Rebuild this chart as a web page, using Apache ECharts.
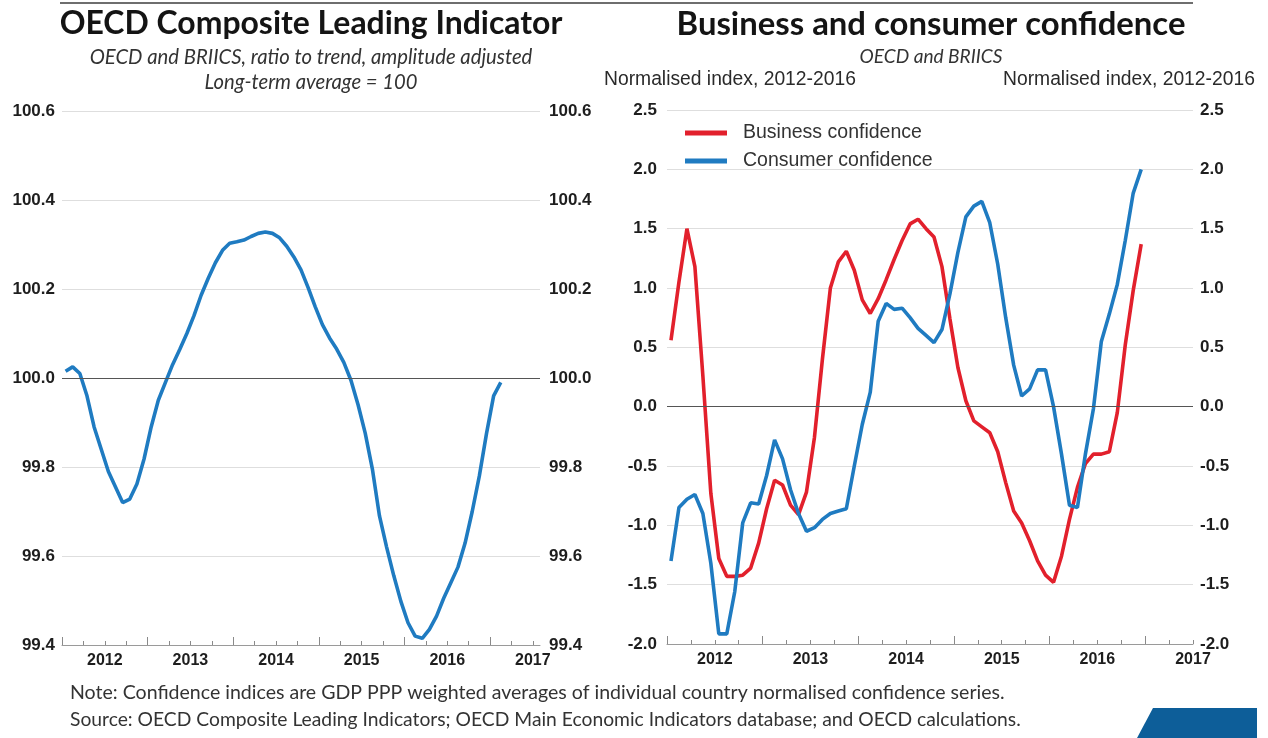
<!DOCTYPE html>
<html>
<head>
<meta charset="utf-8">
<script src="https://cdn.jsdelivr.net/npm/echarts@6/dist/echarts.min.js"></script>
<style>
html,body{margin:0;padding:0;background:#fff;}
#chart{width:1268px;height:738px;}
</style>
</head>
<body>
<div id="chart"></div>
<script>
// ---------------- DATA ----------------
const startYear = 2012;
const yearLabels = ['2012', '2013', '2014', '2015', '2016', '2017'];
// OECD Composite Leading Indicator, monthly from Jan 2012
const cliValues = [
  100.015, 100.025, 100.01, 99.96, 99.89, 99.84, 99.79, 99.755, 99.72, 99.728, 99.762, 99.818,
  99.89, 99.95, 99.99, 100.03, 100.064, 100.10, 100.14, 100.186, 100.224, 100.259, 100.287, 100.303,
  100.306, 100.31, 100.318, 100.325, 100.328, 100.325, 100.315, 100.296, 100.272, 100.243, 100.203, 100.16,
  100.12, 100.09, 100.065, 100.035, 99.995, 99.94, 99.876, 99.796, 99.69, 99.62, 99.556, 99.498,
  99.45, 99.42, 99.415, 99.435, 99.465, 99.505, 99.54, 99.575, 99.629, 99.70, 99.78, 99.875,
  99.96, 99.99
];
// Business confidence, monthly from Jan 2012
const businessValues = [
  0.56, 1.05, 1.50, 1.18, 0.26, -0.73, -1.28, -1.43, -1.43, -1.42, -1.36, -1.15,
  -0.86, -0.62, -0.66, -0.83, -0.91, -0.72, -0.26, 0.40, 1.00, 1.22, 1.31, 1.15,
  0.90, 0.785, 0.91, 1.07, 1.24, 1.40, 1.54, 1.58, 1.50, 1.43, 1.18, 0.74,
  0.33, 0.05, -0.12, -0.17, -0.22, -0.38, -0.64, -0.88, -0.98, -1.13, -1.30, -1.42,
  -1.48, -1.26, -0.95, -0.68, -0.48, -0.40, -0.40, -0.38, -0.05, 0.52, 0.98, 1.37
];
// Consumer confidence, monthly from Jan 2012
const consumerValues = [
  -1.30, -0.85, -0.78, -0.74, -0.90, -1.32, -1.915, -1.915, -1.56, -0.98, -0.81, -0.82,
  -0.58, -0.28, -0.44, -0.70, -0.90, -1.05, -1.02, -0.95, -0.90, -0.88, -0.86, -0.50,
  -0.15, 0.12, 0.72, 0.87, 0.82, 0.83, 0.75, 0.66, 0.60, 0.54, 0.65, 0.95,
  1.30, 1.60, 1.69, 1.73, 1.55, 1.20, 0.75, 0.35, 0.09, 0.15, 0.31, 0.31,
  0.0, -0.40, -0.83, -0.85, -0.40, -0.02, 0.55, 0.78, 1.03, 1.40, 1.80, 2.0
];
const cliTicks = [99.4, 99.6, 99.8, 100.0, 100.2, 100.4, 100.6];
const confTicks = [-2.0, -1.5, -1.0, -0.5, 0.0, 0.5, 1.0, 1.5, 2.0, 2.5];

// ---------------- HELPERS ----------------
const BLUE = '#1f7bc1';
const RED = '#e2202c';
const measureCtx = document.createElement('canvas').getContext('2d');
function fitSize(text, family, weight, style, targetWidth) {
  measureCtx.font = style + ' ' + weight + ' 100px ' + family;
  const w = measureCtx.measureText(text).width;
  return 100 * targetWidth / w;
}
function textEl(text, x, y, width, opts) {
  const family = opts.family || 'Lato';
  const weight = opts.weight || 'normal';
  const fstyle = opts.fontStyle || 'normal';
  const size = fitSize(text, family, weight, fstyle, width);
  return {
    type: 'text', x: x, y: y, silent: true,
    style: {
      text: text, fill: opts.color || '#222',
      fontFamily: family, fontWeight: weight, fontStyle: fstyle, fontSize: size,
      textAlign: opts.align || 'center', textVerticalAlign: 'middle'
    }
  };
}
function range(a, b, step) { const r = []; for (let v = a; v <= b + 1e-9; v += step) r.push(v); return r; }
function toXY(arr) { return arr.map((v, i) => [i + 0.5, v]); }

const axisLabelFont = { fontFamily: 'Liberation Sans', fontWeight: 'bold', fontSize: 17, color: '#1e1e1e' };
const xLabelFont = { fontFamily: 'Liberation Sans', fontWeight: 'bold', fontSize: 16, color: '#1e1e1e' };

function xAxes(gridIndex, max) {
  const yearCenters = yearLabels.map((y, i) => i * 12 + 6).filter(v => v <= max);
  return [
    { // quarterly ticks + year labels
      type: 'value', gridIndex: gridIndex, position: 'bottom', min: 0, max: max,
      axisLine: { show: true, onZero: false, lineStyle: { color: '#9a9a9a', width: 1 } },
      axisTick: { show: true, inside: true, length: 4, customValues: range(0, max, 3), lineStyle: { color: '#8a8a8a' } },
      axisLabel: {
        show: true, customValues: yearCenters, margin: 8, ...xLabelFont,
        formatter: v => yearLabels[Math.floor(v / 12)]
      },
      splitLine: { show: false }
    },
    { // yearly ticks
      type: 'value', gridIndex: gridIndex, position: 'bottom', min: 0, max: max,
      axisLine: { show: false, onZero: false },
      axisTick: { show: true, inside: true, length: 8, customValues: range(0, max, 12), lineStyle: { color: '#8a8a8a' } },
      axisLabel: { show: false },
      splitLine: { show: false }
    }
  ];
}
function yAxes(gridIndex, min, max, interval, ticks, leftMargin, rightMargin) {
  const base = {
    type: 'value', gridIndex: gridIndex, min: min, max: max, interval: interval,
    axisLine: { show: false, onZero: false }, axisTick: { show: false }
  };
  const fmt = v => Number(v).toFixed(1);
  return [
    { ...base, position: 'left',
      axisLabel: { ...axisLabelFont, margin: leftMargin, formatter: fmt, customValues: ticks },
      splitLine: { show: true, lineStyle: { color: '#dedede', width: 1 } } },
    { ...base, position: 'right',
      axisLabel: { ...axisLabelFont, margin: rightMargin, formatter: fmt, customValues: ticks },
      splitLine: { show: false } }
  ];
}
function zeroLine(v) {
  return {
    silent: true, symbol: ['none', 'none'], label: { show: false },
    lineStyle: { color: '#555', width: 1.2, type: 'solid' },
    data: [{ yAxis: v }], animation: false
  };
}

// ---------------- CHART ----------------
const chart = echarts.init(document.getElementById('chart'), null, { renderer: 'canvas' });

const graphics = [
  { type: 'line', silent: true, shape: { x1: 60, y1: 3, x2: 1193, y2: 3 }, style: { stroke: '#6e6e6e', lineWidth: 2 } },
  textEl('OECD Composite Leading Indicator', 311, 24, 503, { weight: 'bold', color: '#141414' }),
  textEl('OECD and BRIICS, ratio to trend, amplitude adjusted', 311, 57, 443, { fontStyle: 'italic', color: '#333' }),
  textEl('Long-term average = 100', 311, 82, 213, { fontStyle: 'italic', color: '#333' }),
  textEl('Business and consumer confidence', 931, 24, 509, { weight: 'bold', color: '#141414' }),
  textEl('OECD and BRIICS', 931, 57, 143, { fontStyle: 'italic', color: '#333' }),
  textEl('Normalised index, 2012-2016', 604, 80, 252, { family: 'Liberation Sans', align: 'left', color: '#2a2a2a' }),
  textEl('Normalised index, 2012-2016', 1003, 80, 252, { family: 'Liberation Sans', align: 'left', color: '#2a2a2a' }),
  textEl('Note: Confidence indices are GDP PPP weighted averages of individual country normalised confidence series.', 70, 693, 935, { align: 'left', color: '#333' }),
  textEl('Source: OECD Composite Leading Indicators; OECD Main Economic Indicators database; and OECD calculations.', 70, 720, 951, { align: 'left', color: '#333' }),
  { type: 'polygon', silent: true, shape: { points: [[1153, 708], [1257, 708], [1257, 738], [1137, 738]] }, style: { fill: '#0d5e99' } }
];

const option = {
  backgroundColor: '#ffffff',
  animation: false,
  grid: [
    { left: 62, right: 728, top: 111, bottom: 93, outerBoundsMode: 'none' },
    { left: 667, right: 75, top: 110, bottom: 94, outerBoundsMode: 'none' }
  ],
  xAxis: [...xAxes(0, 67), ...xAxes(1, 66)],
  yAxis: [
    ...yAxes(0, 99.4, 100.6, 0.2, cliTicks, 7, 9),
    ...yAxes(1, -2.0, 2.5, 0.5, confTicks, 10, 7)
  ],
  legend: {
    data: ['Business confidence', 'Consumer confidence'],
    orient: 'vertical', left: 680, top: 117,
    icon: 'rect', itemWidth: 42, itemHeight: 5, itemGap: 6,
    selectedMode: false,
    textStyle: { fontFamily: 'Liberation Sans', fontSize: 19.5, color: '#333', lineHeight: 22, padding: [0, 0, 0, 11] }
  },
  series: [
    {
      name: 'CLI', type: 'line', xAxisIndex: 0, yAxisIndex: 0, data: toXY(cliValues),
      showSymbol: false, symbol: 'none', lineStyle: { color: BLUE, width: 3.6 }, itemStyle: { color: BLUE },
      markLine: zeroLine(100), z: 3
    },
    {
      name: 'Business confidence', type: 'line', xAxisIndex: 2, yAxisIndex: 2, data: toXY(businessValues),
      showSymbol: false, symbol: 'none', lineStyle: { color: RED, width: 3.6 }, itemStyle: { color: RED },
      markLine: zeroLine(0), z: 3
    },
    {
      name: 'Consumer confidence', type: 'line', xAxisIndex: 2, yAxisIndex: 2, data: toXY(consumerValues),
      showSymbol: false, symbol: 'none', lineStyle: { color: BLUE, width: 3.6 }, itemStyle: { color: BLUE }, z: 4
    }
  ],
  graphic: graphics
};
chart.setOption(option);
</script>
</body>
</html>
